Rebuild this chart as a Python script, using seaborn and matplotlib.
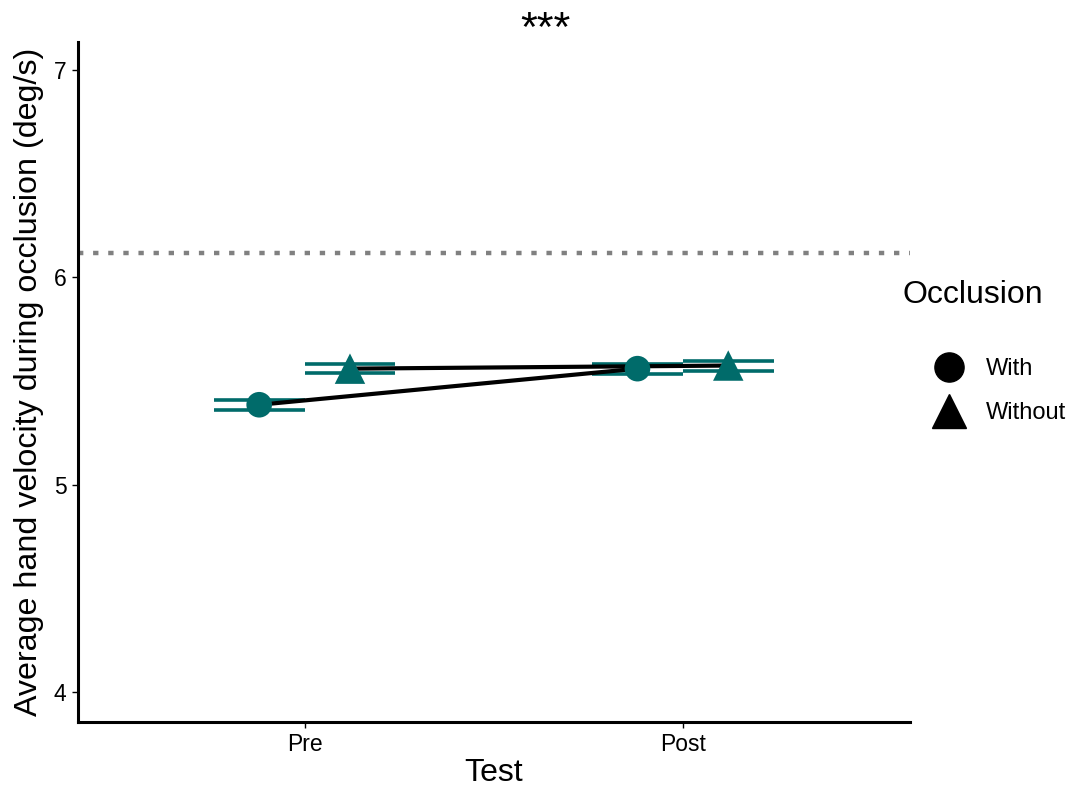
import numpy as np
import pandas as pd
import matplotlib
matplotlib.use("Agg")
import matplotlib.pyplot as plt
import seaborn as sns
from matplotlib.lines import Line2D

tests = ["Pre", "Post"]
occlusion = ["With", "Without"]
mean_with = [5.386, 5.56]
mean_without = [5.56, 5.575]
se_with = [0.025, 0.024]
se_without = [0.022, 0.024]
reference_level = 6.12
yticks = [4, 5, 6, 7]

sns.set_theme(style="white")
plt.rcParams["font.family"] = ["Liberation Sans", "DejaVu Sans"]
plt.rcParams["text.color"] = "black"
plt.rcParams["axes.labelcolor"] = "black"

teal = "#006B6A"
dodge = {"With": -0.12, "Without": 0.12}
markers = {"With": "o", "Without": "^"}

rows = []
for i, t in enumerate(tests):
    rows.append(dict(Test=t, Occlusion="With", mean=mean_with[i], se=se_with[i], xi=i))
    rows.append(dict(Test=t, Occlusion="Without", mean=mean_without[i], se=se_without[i], xi=i))
df = pd.DataFrame(rows)
df["x"] = df["xi"] + df["Occlusion"].map(dodge)

W, H = 1078, 792
fig, ax = plt.subplots(figsize=(W / 100, H / 100), dpi=100)
fig.subplots_adjust(left=0.072, right=0.844, top=0.947, bottom=0.088)

half = 0.12
for _, r in df.iterrows():
    ax.hlines([r["mean"] - r["se"], r["mean"] + r["se"]], r["x"] - half, r["x"] + half,
              color=teal, lw=2.6, zorder=2)

sns.lineplot(data=df, x="x", y="mean", units="Occlusion", estimator=None,
             color="black", lw=3, legend=False, ax=ax, zorder=3)
sns.scatterplot(data=df, x="x", y="mean", style="Occlusion", markers=markers,
                color=teal, s=[340 if o == "With" else 480 for o in df["Occlusion"]],
                edgecolor=teal, linewidth=0, legend=False, ax=ax, zorder=4)

ax.axhline(reference_level, color="#808080", lw=3.2, dashes=(1.2, 2.2), zorder=1)

ax.set_xlim(-0.6, 1.6)
ax.set_ylim(3.855, 7.135)
ax.set_xticks(range(len(tests)))
ax.set_xticklabels(tests)
ax.set_yticks(yticks)
ax.set_xlabel("Test", fontsize=23, color="black", labelpad=1)
ax.set_ylabel("Average hand velocity during occlusion (deg/s)", fontsize=23.2, color="black", labelpad=7)
fig.text(545 / W, 1 - 30 / H, "***", fontsize=31, ha="center", va="center", color="black")
ax.tick_params(axis="both", labelsize=16.5, labelcolor="black", color="black", length=4, width=1,
               bottom=True, left=True, direction="out", pad=4)
for s in ["top", "right"]:
    ax.spines[s].set_visible(False)
for s in ["left", "bottom"]:
    ax.spines[s].set_color("black")
    ax.spines[s].set_linewidth(2.2)

fig.text(903 / W, 1 - 295 / H, "Occlusion", fontsize=23, ha="left", va="center", color="black")
handles = [Line2D([], [], marker=markers[o], color="black", linestyle="none",
                  markersize=21 if o == "With" else 24) for o in occlusion]
leg = fig.legend(handles, occlusion, loc="center left",
                 bbox_to_anchor=(925 / W, 1 - 391 / H), frameon=False, fontsize=17,
                 handletextpad=0.6, labelspacing=0.95, borderaxespad=0.0, borderpad=0.0)
for t in leg.get_texts():
    t.set_color("black")

fig.savefig("out.png", dpi=100)
